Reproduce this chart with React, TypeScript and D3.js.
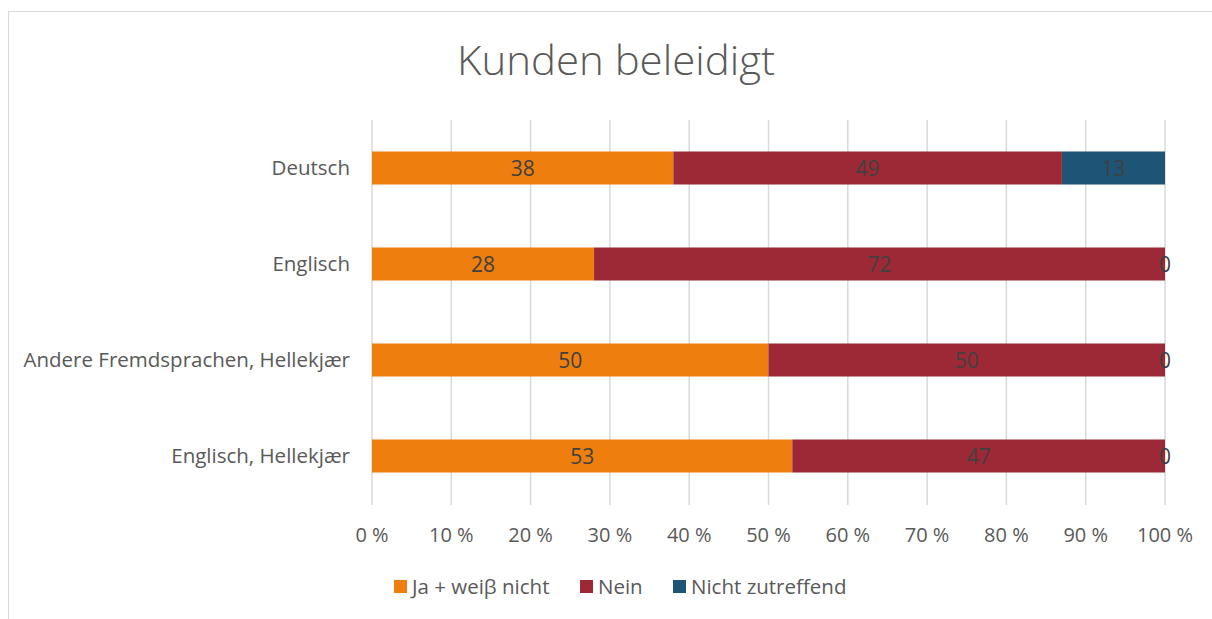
import React from "react";
import * as d3 from "d3";

const categories = ["Deutsch", "Englisch", "Andere Fremdsprachen, Hellekjær", "Englisch, Hellekjær"];
const seriesNames = ["Ja + weiβ nicht", "Nein", "Nicht zutreffend"];
const jaValues = [38, 28, 50, 53];
const neinValues = [49, 72, 50, 47];
const nichtValues = [13, 0, 0, 0];
const xTicks = [0, 10, 20, 30, 40, 50, 60, 70, 80, 90, 100];
const colors = ["#EE7F0E", "#9E2936", "#1E5577"];

const W = 1212, H = 619;
const FONT = "'Open Sans', 'Noto Sans', sans-serif";

export default function App() {
  const x = d3.scaleLinear().domain([0, 100]).range([372, 1165]);
  const y = d3.scaleBand().domain(categories).range([120, 504]).paddingInner(0.656).paddingOuter(0.328);
  const series = [jaValues, neinValues, nichtValues];
  const stack = categories.map((c, i) => {
    let acc = 0;
    return series.map((s, k) => {
      const x0 = acc;
      acc += s[i];
      return { k, x0, x1: acc, v: s[i] };
    });
  });
  const legendSwatch = [394, 580, 673];
  return (
    <svg width={W} height={H} style={{ position: "absolute", left: 0, top: 0 }}>
      <rect x={0} y={0} width={W} height={H} fill="#fff" />
      <rect x={8.5} y={11.5} width={W + 20} height={H + 20} fill="none" stroke="#d9d9d9" strokeWidth={1} />
      <text x={616} y={75} textAnchor="middle" fontFamily={FONT} fontWeight={300} fontSize={40} fill="#595959" textLength={318} lengthAdjust="spacingAndGlyphs">Kunden beleidigt</text>
      {xTicks.map((t) => (
        <line key={t} x1={x(t)} x2={x(t)} y1={120} y2={505} stroke="#d9d9d9" strokeWidth={1.5} />
      ))}
      {xTicks.map((t) => (
        <text key={"l" + t} x={x(t)} y={542} textAnchor="middle" fontFamily={FONT} fontSize={20} fill="#595959">{t} %</text>
      ))}
      {categories.map((c, i) => (
        <g key={c}>
          <text x={350} y={y(c)! + y.bandwidth() / 2 + 7} textAnchor="end" fontFamily={FONT} fontSize={20.5} fill="#595959">{c}</text>
          {stack[i].map((s) => (
            <rect key={s.k} x={x(s.x0)} y={y(c)} width={x(s.x1) - x(s.x0)} height={y.bandwidth()} fill={colors[s.k]} />
          ))}
          {stack[i].map((s) => (
            <text key={"t" + s.k} x={(x(s.x0) + x(s.x1)) / 2} y={y(c)! + y.bandwidth() / 2 + 7.5} textAnchor="middle" fontFamily={FONT} fontSize={21} fill="#404040">{s.v}</text>
          ))}
        </g>
      ))}
      {seriesNames.map((n, k) => (
        <g key={n}>
          <rect x={legendSwatch[k]} y={580} width={13} height={13} fill={colors[k]} />
          <text x={legendSwatch[k] + 18} y={594} fontFamily={FONT} fontSize={20.5} fill="#595959">{n}</text>
        </g>
      ))}
    </svg>
  );
}
